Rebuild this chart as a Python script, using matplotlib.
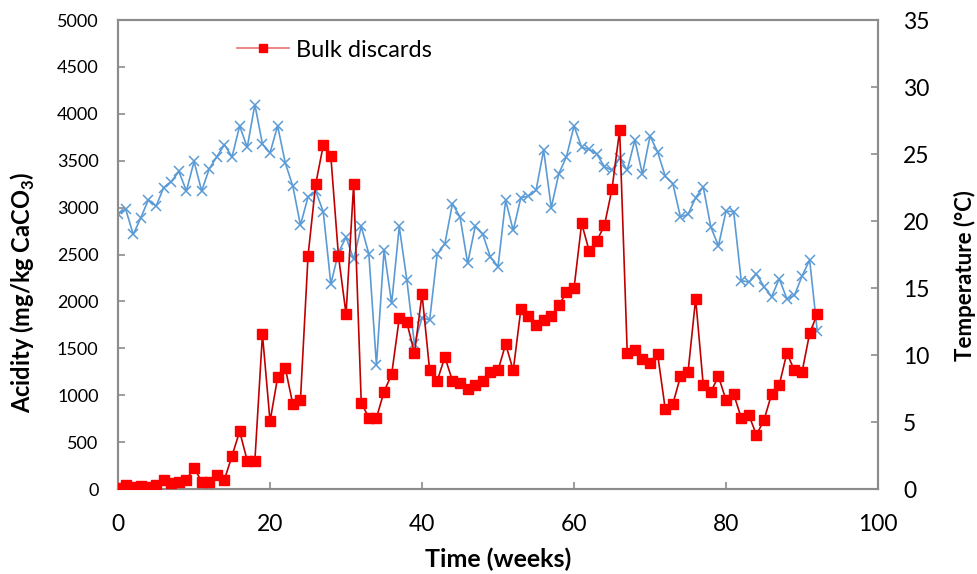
import numpy as np
import matplotlib.pyplot as plt

plt.rcParams['font.family'] = ['Lato', 'DejaVu Sans']
plt.rcParams['mathtext.fontset'] = 'custom'
plt.rcParams['mathtext.rm'] = 'Lato'
plt.rcParams['mathtext.bf'] = 'Lato:bold'

# Week numbers
weeks = np.arange(0, 93)

# Acidity of bulk discards (mg/kg CaCO3), left axis
acidity = [10, 40, 20, 30, 20, 40, 100, 60, 80, 100,
           227, 80, 70, 150, 100, 355, 615, 302, 298, 1649,
           722, 1191, 1293, 903, 949, 2487, 3248, 3664, 3547, 2487,
           1866, 3248, 920, 760, 760, 1038, 1223, 1820, 1777, 1450,
           2076, 1265, 1155, 1407, 1155, 1127, 1063, 1105, 1155, 1247,
           1265, 1546, 1265, 1916, 1844, 1752, 1802, 1844, 1958, 2097,
           2143, 2832, 2537, 2647, 2811, 3202, 3827, 1450, 1478, 1389,
           1340, 1436, 853, 906, 1201, 1248, 2029, 1109, 1038, 1201,
           949, 1013, 760, 789, 576, 739, 1013, 1109, 1450, 1265,
           1248, 1660, 1866]

# Temperature (deg C), right axis
temperature = [20.5, 20.9, 19.0, 20.25, 21.6, 21.1, 22.5, 22.95, 23.7, 22.25,
               24.45, 22.25, 23.9, 24.8, 25.7, 24.8, 27.1, 25.5, 28.7, 25.75,
               25.1, 27.1, 24.35, 22.6, 19.7, 21.8, 22.25, 20.7, 15.3, 17.65,
               18.8, 17.15, 19.6, 17.55, 9.25, 17.85, 13.85, 19.6, 15.6, 10.8,
               12.8, 12.6, 17.55, 18.3, 21.3, 20.3, 16.85, 19.6, 19.0, 17.3,
               16.6, 21.55, 19.3, 21.75, 21.85, 22.3, 25.3, 21.0, 23.55, 24.8,
               27.1, 25.5, 25.35, 25.0, 24.05, 23.8, 24.7, 23.8, 26.05, 23.5,
               26.35, 25.15, 23.35, 22.8, 20.3, 20.5, 21.75, 22.55, 19.55, 18.15,
               20.75, 20.7, 15.55, 15.45, 16.05, 15.1, 14.35, 15.7, 14.2, 14.45,
               15.9, 17.1, 11.8]

fig = plt.figure(figsize=(9.78, 5.74), dpi=100)
ax1 = fig.add_axes([0.1207, 0.148, 0.7771, 0.817])
ax2 = ax1.twinx()

# Temperature series (blue crosses)
ax2.plot(weeks, temperature, color='#5B9BD5', marker='x', markersize=6.5,
         markeredgewidth=1.1, linewidth=1.2, zorder=2)

# Acidity series (red squares)
ax1.plot(weeks, acidity, color='#C00000', marker='s', markersize=7,
         markerfacecolor='#FF0000', markeredgecolor='#FF0000',
         linewidth=1.2, label='Bulk discards', zorder=3)
ax1.set_zorder(ax2.get_zorder() + 1)
ax1.patch.set_visible(False)

ax1.set_xlim(0, 100)
ax1.set_ylim(0, 5000)
ax2.set_ylim(0, 35)
ax1.set_xticks(range(0, 101, 20))
ax1.set_yticks(range(0, 5001, 500))
ax2.set_yticks(range(0, 36, 5))

for ax in (ax1, ax2):
    for s in ax.spines.values():
        s.set_color('#8C8C8C')
        s.set_linewidth(1.5)
    ax.tick_params(direction='in', color='#8C8C8C', length=5, width=1.2)
ax1.tick_params(axis='x', pad=18, labelsize=16.5)
ax1.tick_params(axis='y', pad=14, labelsize=13)
ax2.tick_params(axis='y', pad=18, labelsize=16.5)

ax1.set_xlabel('Time (weeks)', fontsize=18, fontweight='bold')
ax1.xaxis.set_label_coords(0.5, -0.125)
ax1.set_ylabel('Acidity (mg/kg CaCO$_\\mathbf{3}$)', fontsize=17,
               fontweight='bold')
ax1.yaxis.set_label_coords(-0.106, 0.42)
ax2.set_ylabel('Temperature (°C)', fontsize=16, fontweight='bold')
ax2.yaxis.set_label_coords(1.1, 0.456)

leg = ax1.legend(loc='center left', bbox_to_anchor=(0.157, 0.936),
                 frameon=False, fontsize=17, handlelength=2.2,
                 handletextpad=0.3, borderpad=0, borderaxespad=0,
                 markerscale=0.9)
leg.get_lines()[0].set_color('#E57373')

fig.savefig('out.png', dpi=100)
